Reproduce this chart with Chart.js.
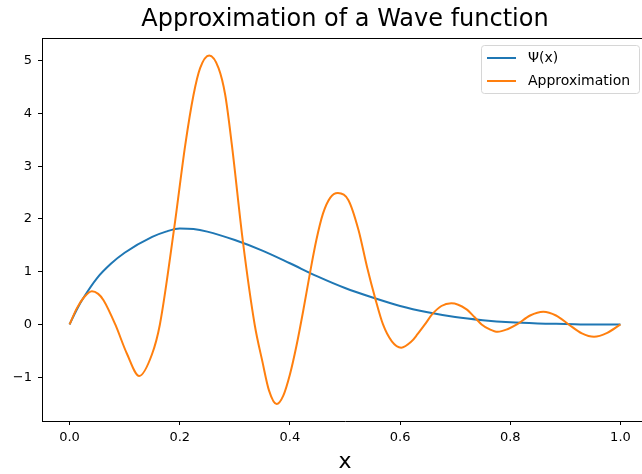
<!DOCTYPE html>
<html>
<head>
<meta charset="utf-8">
<script src="https://cdn.jsdelivr.net/npm/chart.js"></script>
<style>
  html, body { margin: 0; padding: 0; background: #fff; overflow: hidden; }
  #wrap { width: 642px; height: 474px; overflow: hidden; }
</style>
</head>
<body>
<div id="wrap"><canvas id="myChart" width="650" height="474"></canvas></div>
<script>
// values
const psiX = [0, 0.0125, 0.025, 0.05, 0.075, 0.1, 0.15, 0.175, 0.2, 0.225, 0.25, 0.3, 0.35,
  0.4, 0.45, 0.5, 0.55, 0.6, 0.65, 0.7, 0.75, 0.8, 0.85, 0.9, 0.95, 1.0];
const psiY = [0, 0.27, 0.50, 0.88, 1.15, 1.36, 1.66, 1.76, 1.82, 1.81, 1.76, 1.60, 1.40,
  1.16, 0.91, 0.69, 0.51, 0.35, 0.23, 0.14, 0.08, 0.04, 0.02, 0.01, 0.0, 0.0];

const approxX = [0, 0.0134, 0.0267, 0.0406, 0.052, 0.0617, 0.083, 0.104, 0.1265, 0.1495,
  0.164, 0.19, 0.21, 0.225, 0.237, 0.2535, 0.2705, 0.2826, 0.2947, 0.3147, 0.336, 0.35,
  0.362, 0.376, 0.388, 0.4, 0.412, 0.424, 0.436, 0.448, 0.46, 0.473, 0.487, 0.506, 0.5245,
  0.54, 0.555, 0.569, 0.585, 0.602, 0.62, 0.632, 0.645, 0.658, 0.675, 0.693, 0.72, 0.735,
  0.748, 0.762, 0.777, 0.795, 0.812, 0.836, 0.86, 0.883, 0.906, 0.93, 0.952, 0.976, 1.0];
const approxY = [0, 0.31, 0.52, 0.63, 0.58, 0.46, 0, -0.55, -0.975, -0.57,
  0, 1.83, 3.40, 4.35, 4.86, 5.10, 4.86, 4.35, 3.40, 1.57, 0, -0.70,
  -1.25, -1.51, -1.35, -0.95, -0.40, 0.25, 0.95, 1.60, 2.10, 2.40, 2.49, 2.36, 1.79,
  1.09, 0.49, 0, -0.32, -0.44, -0.33, -0.18, 0, 0.19, 0.35, 0.40, 0.29, 0.14,
  0, -0.09, -0.14, -0.09, 0, 0.17, 0.24, 0.17, 0, -0.17, -0.235, -0.16, 0];

const seriesNames = ['\u03A8(x)', 'Approximation'];
const seriesColors = ['#1f77b4', '#ff7f0e'];
const xTicks = [0, 0.2, 0.4, 0.6, 0.8, 1.0];
const yTicks = [-1, 0, 1, 2, 3, 4, 5];

const FONT = '"DejaVu Sans", "Liberation Sans", sans-serif';

const toPoints = (xs, ys) => xs.map((x, i) => ({ x: x, y: ys[i] }));

// title, top/right spines and the legend box drawn like matplotlib
const framePlugin = {
  id: 'frame',
  afterDraw(chart) {
    const ctx = chart.ctx;
    const a = chart.chartArea;
    ctx.save();
    ctx.strokeStyle = '#000';
    ctx.lineWidth = 1;
    ctx.beginPath();
    ctx.moveTo(a.left, a.top + 0.5);
    ctx.lineTo(a.right, a.top + 0.5);
    ctx.moveTo(a.right - 0.5, a.top);
    ctx.lineTo(a.right - 0.5, a.bottom);
    ctx.stroke();

    ctx.fillStyle = '#000';
    ctx.font = '24px ' + FONT;
    ctx.textAlign = 'center';
    ctx.textBaseline = 'middle';
    ctx.fillText('Approximation of a Wave function', (a.left + a.right) / 2, 20);

    // legend
    const bx = 481.5, by = 45.5, bw = 158, bh = 48, r = 3;
    ctx.beginPath();
    ctx.moveTo(bx + r, by);
    ctx.arcTo(bx + bw, by, bx + bw, by + bh, r);
    ctx.arcTo(bx + bw, by + bh, bx, by + bh, r);
    ctx.arcTo(bx, by + bh, bx, by, r);
    ctx.arcTo(bx, by, bx + bw, by, r);
    ctx.closePath();
    ctx.fillStyle = 'rgba(255,255,255,0.8)';
    ctx.fill();
    ctx.strokeStyle = '#d6d6d6';
    ctx.stroke();

    ctx.font = '14px ' + FONT;
    ctx.textAlign = 'left';
    seriesNames.forEach((name, i) => {
      const y = 58 + i * 23;
      ctx.strokeStyle = seriesColors[i];
      ctx.lineWidth = 2;
      ctx.beginPath();
      ctx.moveTo(487, y);
      ctx.lineTo(516, y);
      ctx.stroke();
      ctx.fillStyle = '#000';
      ctx.fillText(name, 528, y);
    });
    ctx.restore();
  }
};

const ctx = document.getElementById('myChart').getContext('2d');
const myChart = new Chart(ctx, {
  type: 'line',
  data: {
    datasets: [
      {
        label: seriesNames[0],
        data: toPoints(psiX, psiY),
        borderColor: seriesColors[0],
        borderWidth: 2,
        pointRadius: 0,
        cubicInterpolationMode: 'monotone',
        order: 1
      },
      {
        label: seriesNames[1],
        data: toPoints(approxX, approxY),
        borderColor: seriesColors[1],
        borderWidth: 2,
        pointRadius: 0,
        cubicInterpolationMode: 'monotone',
        order: 0
      }
    ]
  },
  options: {
    responsive: false,
    animation: false,
    layout: { padding: { top: 38, right: 2, left: 0, bottom: 0 } },
    plugins: {
      legend: { display: false },
      tooltip: { enabled: false },
      title: { display: false }
    },
    scales: {
      x: {
        type: 'linear',
        min: -0.05,
        max: 1.05,
        afterBuildTicks: s => { s.ticks = xTicks.map(v => ({ value: v })); },
        afterFit: s => { s.height = 53; },
        ticks: {
          callback: v => v.toFixed(1),
          color: '#000',
          font: { family: FONT, size: 13 },
          padding: 5,
          maxRotation: 0,
          autoSkip: false
        },
        grid: { drawOnChartArea: false, drawTicks: true, tickLength: 4, color: '#000' },
        border: { display: true, color: '#000', width: 1 },
        title: {
          display: true,
          text: 'x',
          color: '#000',
          font: { family: FONT, size: 22, lineHeight: 1 },
          padding: { top: 0, bottom: 1 }
        }
      },
      y: {
        type: 'linear',
        min: -1.83,
        max: 5.43,
        afterBuildTicks: s => { s.ticks = yTicks.map(v => ({ value: v })); },
        afterFit: s => { s.width = 42; },
        ticks: {
          callback: v => (v < 0 ? '\u2212' + Math.abs(v) : String(v)),
          color: '#000',
          font: { family: FONT, size: 13 },
          padding: 6,
          autoSkip: false
        },
        grid: { drawOnChartArea: false, drawTicks: true, tickLength: 4, color: '#000' },
        border: { display: true, color: '#000', width: 1 }
      }
    }
  },
  plugins: [framePlugin]
});
</script>
</body>
</html>
